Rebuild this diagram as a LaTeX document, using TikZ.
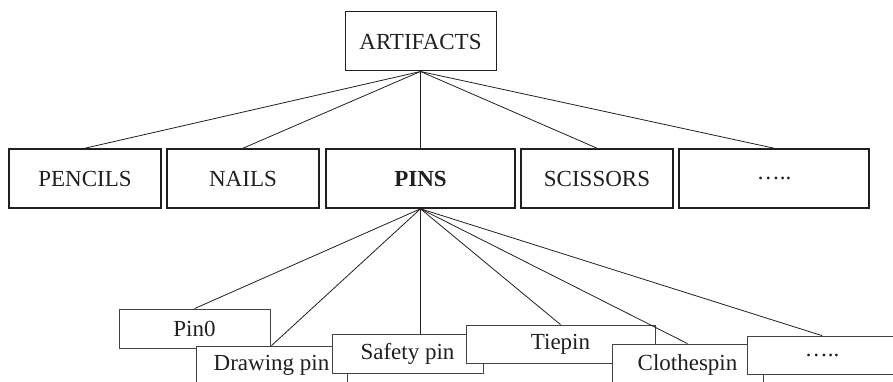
\documentclass[tikz,border=0pt]{standalone}
\usepackage{fontspec}
\setmainfont{Liberation Serif}
\definecolor{ink}{HTML}{231F20}
\begin{document}
\begin{tikzpicture}[x=1pt,y=-1pt,
  every node/.style={font=\fontsize{23}{27}\selectfont, text=ink, inner sep=0pt},
  rootbox/.style={draw=ink, line width=1pt, fill=white, minimum width=151pt, minimum height=59pt},
  catbox/.style={draw=ink, line width=1.6pt, fill=white, minimum height=59pt},
  leafbox/.style={draw=ink!85, line width=0.8pt, fill=white, minimum height=39pt},
  link/.style={draw=ink, line width=0.8pt}]
  \clip (0,0) rectangle (893,382);
  \fill[white] (0,0) rectangle (893,382);

  % root
  \node[rootbox] (art) at (420.5,41.5) {ARTIFACTS};

  % categories
  \node[catbox, minimum width=152pt] (pencils)  at (85,178.5)    {PENCILS};
  \node[catbox, minimum width=152pt] (nails)    at (243,178.5)   {NAILS};
  \node[catbox, minimum width=189pt] (pins)     at (420.5,178.5) {\bfseries PINS};
  \node[catbox, minimum width=152pt] (scissors) at (597,178.5)   {SCISSORS};
  \node[catbox, minimum width=190pt] (morecat)  at (774,178.5)   {…..};

  % kinds of pins, stacked left to right
  \node[leafbox, minimum width=151pt] (pin0)    at (194.5,328.5) {Pin0};
  \node[leafbox, minimum width=151pt] (drawing) at (271.5,365.5) {Drawing pin};
  \node[leafbox, minimum width=151pt] (safety)  at (407.5,353.5) {Safety pin};
  \node[leafbox, minimum width=189pt, minimum height=38pt] (tiepin) at (560.5,344) {Tiepin};
  \node[leafbox, minimum width=151pt, minimum height=41pt] (clothes) at (687.5,364.5) {Clothespin};
  \node[leafbox, minimum width=150pt, minimum height=38pt] (morepin) at (822,355) {…..};

  % root to categories
  \foreach \c in {pencils,nails,pins,scissors,morecat}
    \draw[link] (art.south) -- (\c.north);

  % pins to kinds
  \draw[link] (pins.south) -- (pin0.north);
  \draw[link] (pins.south) -- (drawing.north);
  \draw[link] (pins.south) -- (pins.south |- safety.north);
  \draw[link] (pins.south) -- (tiepin.north);
  \draw[link] (pins.south) -- (clothes.north);
  \draw[link] (pins.south) -- (morepin.north);
\end{tikzpicture}
\end{document}
